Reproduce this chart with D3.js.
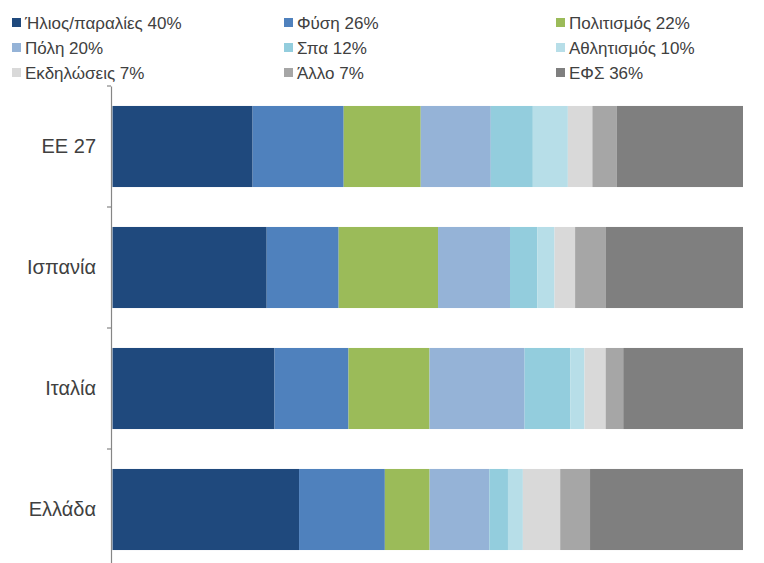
<!DOCTYPE html>
<html>
<head>
<meta charset="utf-8">
<script src="https://cdn.jsdelivr.net/npm/d3@7"></script>
<style>
  html, body { margin: 0; padding: 0; background: #fff; }
  svg { display: block; }
</style>
</head>
<body>
<svg id="chart" width="764" height="563"></svg>
<script>
// ---- data ----
const categories = ["ΕΕ 27", "Ισπανία", "Ιταλία", "Ελλάδα"];
const seriesNames = ["Ήλιος/παραλίες", "Φύση", "Πολιτισμός", "Πόλη", "Σπα", "Αθλητισμός", "Εκδηλώσεις", "Άλλο", "ΕΦΣ"];
const legendLabels = ["Ήλιος/παραλίες 40%", "Φύση 26%", "Πολιτισμός 22%", "Πόλη 20%", "Σπα 12%", "Αθλητισμός 10%", "Εκδηλώσεις 7%", "Άλλο 7%", "ΕΦΣ 36%"];
const colors = ["#1F497D", "#4F81BD", "#9BBB59", "#95B3D7", "#93CDDD", "#B7DEE8", "#D9D9D9", "#A6A6A6", "#7F7F7F"];
// values per category (in series order)
const valuesEE27    = [40, 26, 22, 20, 12, 10, 7, 7, 36];
const valuesSpain   = [45, 21, 29, 21, 8, 5, 6, 9, 40];
const valuesItaly   = [46, 21, 23, 27, 13, 4, 6, 5, 34];
const valuesGreece  = [50, 23, 12, 16, 5, 4, 10, 8, 41];
const valueRows = [valuesEE27, valuesSpain, valuesItaly, valuesGreece];

const table = categories.map((c, i) => {
  const row = { category: c };
  seriesNames.forEach((s, j) => row[s] = valueRows[i][j]);
  return row;
});

const svg = d3.select("#chart");
const textColor = "#404040";

const x = d3.scaleLinear().domain([0, 1]).range([112.5, 743]);
const y = d3.scaleBand().domain(categories).range([86, 570]).paddingInner(0.33).paddingOuter(0.165);

const stack = d3.stack().keys(seriesNames).offset(d3.stackOffsetExpand);
const stacked = stack(table);

svg.append("g").selectAll("g")
  .data(stacked)
  .join("g")
  .attr("fill", (d, i) => colors[i])
  .selectAll("rect")
  .data(d => d)
  .join("rect")
  .attr("x", d => x(d[0]))
  .attr("width", d => x(d[1]) - x(d[0]))
  .attr("y", d => y(d.data.category))
  .attr("height", y.bandwidth());

// axis
const axisG = svg.append("g")
  .attr("transform", "translate(111,0)")
  .call(d3.axisLeft(y).tickSize(0).tickPadding(15));
axisG.select(".domain").attr("stroke", "#868686").attr("stroke-width", 1.2);
axisG.selectAll(".tick text")
  .attr("fill", textColor)
  .style("font-family", "'Liberation Sans', Arial, sans-serif")
  .style("font-size", "20px");

// boundary ticks
const step = y.step();
const boundaries = categories.map(c => y(c) - step * y.paddingInner() / 2).concat([y(categories[categories.length - 1]) + y.bandwidth() + step * y.paddingInner() / 2]);
axisG.selectAll("line.bt")
  .data(boundaries)
  .join("line")
  .attr("class", "bt")
  .attr("x1", -4).attr("x2", 0)
  .attr("y1", d => d).attr("y2", d => d)
  .attr("stroke", "#868686").attr("stroke-width", 1.2);

// legend
const legend = svg.append("g");
const colX = [12, 284, 556];
const rowY = [23, 48, 73];
legendLabels.forEach((lab, i) => {
  const cx = colX[i % 3], cy = rowY[Math.floor(i / 3)];
  legend.append("rect")
    .attr("x", cx).attr("y", cy - 5)
    .attr("width", 9).attr("height", 9)
    .attr("fill", colors[i]);
  legend.append("text")
    .attr("x", cx + 13).attr("y", cy)
    .attr("dy", "0.35em")
    .attr("fill", textColor)
    .style("font-family", "'Liberation Sans', Arial, sans-serif")
    .style("font-size", "17px")
    .text(lab);
});
</script>
</body>
</html>
